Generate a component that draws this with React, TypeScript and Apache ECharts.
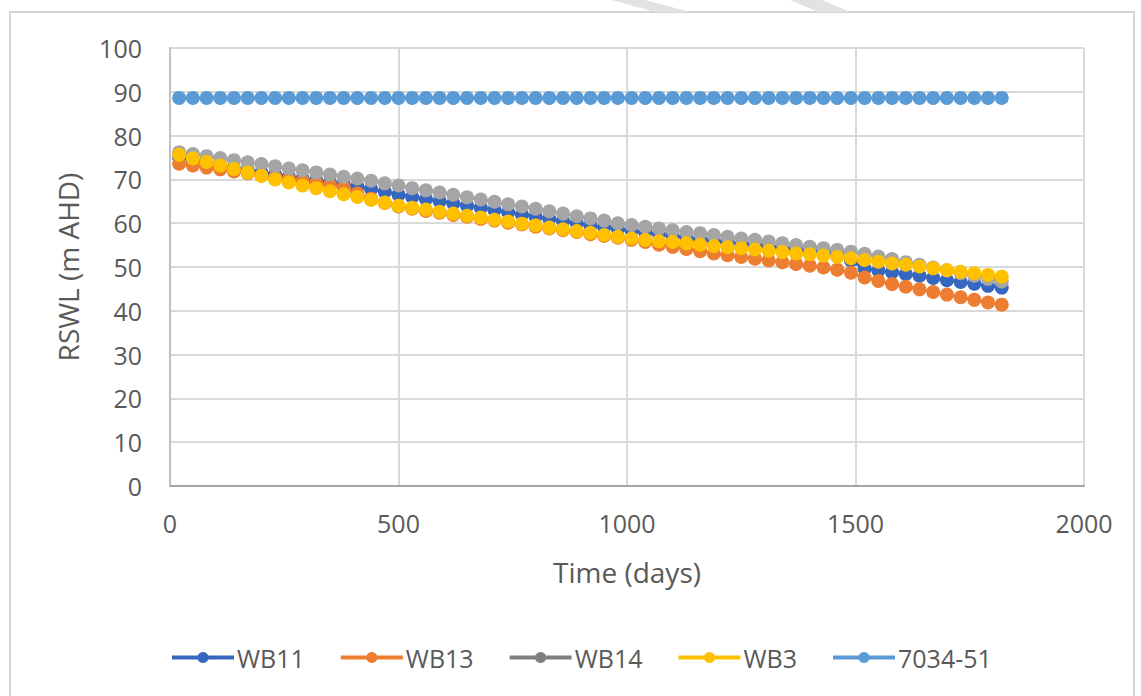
import React, { useEffect, useRef } from "react";
import * as echarts from "echarts";

const days = [
  20, 50, 80, 110, 140, 170, 200, 230, 260, 290, 320, 350, 380, 410, 440, 470, 500, 530, 560, 590,
  620, 650, 680, 710, 740, 770, 800, 830, 860, 890, 920, 950, 980, 1010, 1040, 1070, 1100, 1130,
  1160, 1190, 1220, 1250, 1280, 1310, 1340, 1370, 1400, 1430, 1460, 1490, 1520, 1550, 1580, 1610,
  1640, 1670, 1700, 1730, 1760, 1790, 1820,
];

const wb11 = [
  75.0, 74.4, 73.8, 73.2, 72.6, 72.1, 71.6, 71.1, 70.6, 70.2, 69.8, 69.3, 68.9, 68.4, 67.8, 67.2,
  66.5, 66.0, 65.5, 65.0, 64.5, 64.0, 63.5, 63.0, 62.5, 62.0, 61.5, 61.0, 60.5, 60.0, 59.5, 59.1,
  58.7, 58.3, 57.9, 57.5, 57.1, 56.7, 56.3, 56.0, 55.6, 55.3, 55.0, 54.7, 54.4, 54.1, 53.8, 53.5,
  53.0, 51.5, 49.6, 49.2, 48.8, 48.4, 48.0, 47.5, 47.0, 46.6, 46.2, 45.7, 45.3,
];

const wb13 = [
  73.6, 73.2, 72.7, 72.3, 71.8, 71.4, 70.9, 70.5, 70.1, 69.7, 69.2, 68.7, 68.2, 66.8, 65.6, 64.6,
  63.8, 63.3, 62.8, 62.4, 61.9, 61.5, 61.0, 60.6, 60.1, 59.7, 59.2, 58.8, 58.4, 58.0, 57.5, 57.1,
  56.7, 56.2, 55.7, 55.1, 54.6, 54.1, 53.6, 53.1, 52.7, 52.3, 51.9, 51.5, 51.1, 50.7, 50.3, 49.9,
  49.4, 48.7, 47.6, 46.8, 46.1, 45.5, 44.9, 44.3, 43.7, 43.1, 42.5, 41.9, 41.4,
];

const wb14 = [
  76.2, 75.8, 75.3, 74.9, 74.4, 73.9, 73.5, 73.0, 72.5, 72.1, 71.6, 71.1, 70.6, 70.2, 69.7, 69.1,
  68.6, 68.0, 67.5, 67.0, 66.5, 65.9, 65.4, 64.9, 64.3, 63.8, 63.3, 62.7, 62.2, 61.6, 61.1, 60.6,
  60.0, 59.6, 59.2, 58.8, 58.4, 58.0, 57.7, 57.3, 56.9, 56.5, 56.2, 55.8, 55.4, 55.0, 54.6, 54.3,
  53.9, 53.5, 53.0, 52.4, 51.8, 51.1, 50.5, 49.9, 49.2, 48.6, 48.0, 47.3, 46.7,
];

const wb3 = [
  75.6, 74.8, 74.0, 73.2, 72.4, 71.6, 70.8, 70.0, 69.3, 68.6, 68.0, 67.3, 66.6, 66.0, 65.3, 64.7,
  64.0, 63.5, 63.1, 62.6, 62.2, 61.7, 61.3, 60.8, 60.4, 59.9, 59.5, 59.0, 58.6, 58.2, 57.8, 57.3,
  56.9, 56.5, 56.2, 55.9, 55.7, 55.4, 55.1, 54.8, 54.5, 54.3, 54.0, 53.7, 53.4, 53.1, 52.9, 52.6,
  52.3, 52.0, 51.6, 51.2, 50.8, 50.5, 50.1, 49.7, 49.3, 48.9, 48.6, 48.2, 47.8,
];

const w7034 = [
  88.6, 88.6, 88.6, 88.6, 88.6, 88.6, 88.6, 88.6, 88.6, 88.6, 88.6, 88.6, 88.6, 88.6, 88.6, 88.6,
  88.6, 88.6, 88.6, 88.6, 88.6, 88.6, 88.6, 88.6, 88.6, 88.6, 88.6, 88.6, 88.6, 88.6, 88.6, 88.6,
  88.6, 88.6, 88.6, 88.6, 88.6, 88.6, 88.6, 88.6, 88.6, 88.6, 88.6, 88.6, 88.6, 88.6, 88.6, 88.6,
  88.6, 88.6, 88.6, 88.6, 88.6, 88.6, 88.6, 88.6, 88.6, 88.6, 88.6, 88.6, 88.6,
];

const seriesNames = ["WB11", "WB13", "WB14", "WB3", "7034-51"];
const seriesValues = [wb11, wb13, wb14, wb3, w7034];
const seriesColors = ["#3566c0", "#ed7d31", "#a5a5a5", "#ffc000", "#5b9bd5"];
const legendColors = ["#3566c0", "#ed7d31", "#7f7f7f", "#ffc000", "#5b9bd5"];

const xTicks = { min: 0, max: 2000, interval: 500 };
const yTicks = { min: 0, max: 100, interval: 10 };

const FONT = "'Open Sans', 'Noto Sans', sans-serif";
const TEXT = "#595959";

export default function App() {
  const ref = useRef<HTMLDivElement>(null);

  useEffect(() => {
    if (!ref.current) return;
    const chart = echarts.init(ref.current, undefined, { renderer: "svg" });
    chart.setOption({
      animation: false,
      backgroundColor: "#ffffff",
      textStyle: { fontFamily: FONT },
      graphic: [
        {
          type: "rect",
          shape: { x: 10, y: 12, width: 1124, height: 690 },
          style: { fill: "none", stroke: "#d4d4d4", lineWidth: 2 },
          silent: true,
        },
        {
          type: "polygon",
          shape: { points: [[612, 0], [645, 0], [690, 12], [655, 12]] },
          style: { fill: "#e2e2e2" },
          silent: true,
        },
        {
          type: "polygon",
          shape: { points: [[790, 0], [822, 0], [850, 12], [818, 12]] },
          style: { fill: "#e2e2e2" },
          silent: true,
        },
      ],
      grid: { left: 170, right: 57, top: 48, bottom: 210, containLabel: false },
      legend: {
        left: 165,
        top: 640,
        itemWidth: 62,
        itemHeight: 14,
        itemGap: 34,
        textStyle: { color: TEXT, fontSize: 25, fontFamily: FONT, padding: [0, 0, 0, -2] },
        data: seriesNames.map((name, i) => ({
          name,
          itemStyle: { color: legendColors[i] },
          lineStyle: { color: legendColors[i], width: 4 },
        })),
      },
      xAxis: {
        type: "value",
        min: xTicks.min,
        max: xTicks.max,
        interval: xTicks.interval,
        name: "Time (days)",
        nameLocation: "middle",
        nameGap: 72,
        nameTextStyle: { color: TEXT, fontSize: 28, fontFamily: FONT },
        axisLine: { show: true, lineStyle: { color: "#a6a6a6", width: 2 } },
        axisTick: { show: false },
        axisLabel: {
          color: TEXT,
          fontSize: 25,
          fontFamily: FONT,
          margin: 24,
          formatter: (v: number) => String(v),
        },
        splitLine: { show: true, lineStyle: { color: "#d9d9d9", width: 2 } },
      },
      yAxis: {
        type: "value",
        min: yTicks.min,
        max: yTicks.max,
        interval: yTicks.interval,
        name: "RSWL (m AHD)",
        nameLocation: "middle",
        nameGap: 88,
        nameTextStyle: { color: TEXT, fontSize: 28, fontFamily: FONT },
        axisLine: { show: true, lineStyle: { color: "#bfbfbf", width: 2 } },
        axisTick: { show: false },
        axisLabel: {
          color: TEXT,
          fontSize: 25,
          fontFamily: FONT,
          margin: 28,
          formatter: (v: number) => String(v),
        },
        splitLine: { show: true, lineStyle: { color: "#d9d9d9", width: 2 } },
      },
      series: seriesNames.map((name, i) => ({
        name,
        type: "line",
        data: days.map((d, j) => [d, seriesValues[i][j]]),
        symbol: "circle",
        symbolSize: 14,
        showSymbol: true,
        color: seriesColors[i],
        lineStyle: { color: seriesColors[i], width: 3 },
        itemStyle: { color: seriesColors[i] },
      })),
    });
    return () => chart.dispose();
  }, []);

  return (
    <div
      ref={ref}
      style={{ position: "fixed", left: 0, top: 0, width: 1141, height: 696 }}
    />
  );
}
